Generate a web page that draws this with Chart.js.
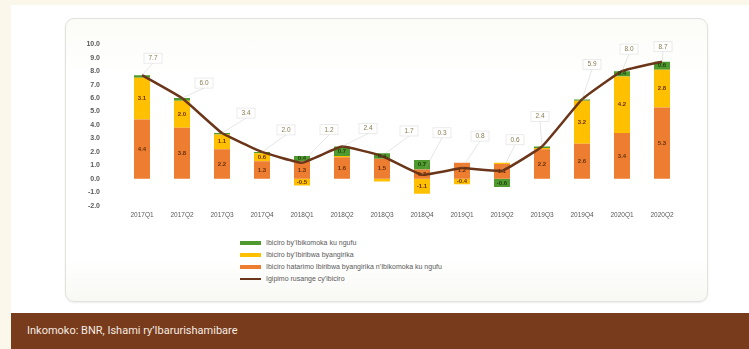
<!DOCTYPE html>
<html>
<head>
<meta charset="utf-8">
<script src="https://cdn.jsdelivr.net/npm/chart.js@4.4.1/dist/chart.umd.min.js"></script>
<style>
  html, body { margin: 0; padding: 0; }
  body { width: 749px; height: 349px; background: #fbf7ea; position: relative; overflow: hidden; font-family: "Liberation Sans", Arial, sans-serif; }
  #panel { position: absolute; left: 11px; top: 5px; width: 738px; height: 308px; background: #ffffff; }
  #box { position: absolute; left: 65px; top: 18px; width: 641px; height: 282px; border: 1px solid #e2e2dc; border-radius: 9px; background: linear-gradient(#fbfbf7, #ffffff 20%, #ffffff 85%, #f8f8f4); box-shadow: 0 1px 2px rgba(0,0,0,0.08); }
  #wrap { position: absolute; left: 65px; top: 18px; width: 642px; height: 214px; }
  #legend { position: absolute; left: 240px; top: 237px; font-size: 7px; color: #595959; line-height: 12px; }
  #legend div { display: flex; align-items: center; height: 12px; }
  #legend span.sw { display: inline-block; width: 21px; height: 4px; margin-right: 5px; }
  #footer { position: absolute; left: 11px; top: 313px; width: 738px; height: 36px; background: #783b1b; color: #f4ebe3; font-family: Roboto, "Open Sans", sans-serif; font-size: 11px; line-height: 36px; }
  #footer span { position: absolute; left: 16px; }
</style>
</head>
<body>
<div id="panel"></div>
<div id="box"></div>
<div id="wrap"><canvas id="c" width="642" height="214"></canvas></div>
<div id="legend"></div>
<div id="footer"><span>Inkomoko: BNR, Ishami ry’Ibarurishamibare</span></div>
<script>
// ---- data ----
const categories = ["2017Q1","2017Q2","2017Q3","2017Q4","2018Q1","2018Q2","2018Q3","2018Q4","2019Q1","2019Q2","2019Q3","2019Q4","2020Q1","2020Q2"];
const coreValues   = [4.4, 3.8, 2.2, 1.3, 1.3, 1.6, 1.5, 0.7, 1.2, 1.1, 2.2, 2.6, 3.4, 5.3];
const freshValues  = [3.1, 2.0, 1.1, 0.6, -0.5, 0.1, -0.2, -1.1, -0.4, 0.1, 0.1, 3.2, 4.2, 2.8];
const energyValues = [0.2, 0.2, 0.1, 0.1, 0.4, 0.7, 0.4, 0.7, 0.0, -0.6, 0.1, 0.1, 0.4, 0.6];
const headlineValues = [7.7, 6.0, 3.4, 2.0, 1.2, 2.4, 1.7, 0.3, 0.8, 0.6, 2.4, 5.9, 8.0, 8.7];
const yTicks = [-2,-1,0,1,2,3,4,5,6,7,8,9,10];
const seriesNames = {
  energy: "Ibiciro by’Ibikomoka ku ngufu",
  fresh: "Ibiciro by’Ibiribwa byangirika",
  core: "Ibiciro hatarimo Ibiribwa byangirika n’Ibikomoka ku ngufu",
  headline: "Igipimo rusange cy’ibiciro"
};
// ---- styles ----
const COL = { core: "#ED7D31", fresh: "#FFC000", energy: "#4E9A2E", line: "#6B3519" };
const calloutOffsets = [[11,-17],[22,-15],[24,-20],[24,-22],[27,-33],[26,-18],[27,-25],[20,-42],[18,-32],[13,-31],[-2,-30],[10,-35],[7,-22],[1,-15]];

const legend = document.getElementById('legend');
[["energy", COL.energy, 4],["fresh", COL.fresh, 4],["core", COL.core, 4],["headline", COL.line, 2.5]].forEach(([k,c,h]) => {
  const d = document.createElement('div');
  d.innerHTML = '<span class="sw" style="background:'+c+';height:'+h+'px"></span>' + seriesNames[k];
  legend.appendChild(d);
});

const segLabels = {
  id: 'segLabels',
  afterDatasetsDraw(chart) {
    const ctx = chart.ctx;
    ctx.save();
    ctx.font = "bold 6px 'Liberation Sans', Arial";
    ctx.textAlign = 'center'; ctx.textBaseline = 'middle';
    [0,1,2].forEach(di => {
      const meta = chart.getDatasetMeta(di);
      const ds = chart.data.datasets[di];
      meta.data.forEach((bar, i) => {
        const v = ds.data[i];
        if (Math.abs(v) < 0.3) return;
        const cy = (bar.y + bar.base) / 2;
        ctx.fillStyle = di === 2 ? '#1f3d10' : '#6a3008';
        ctx.fillText(v.toFixed(1), bar.x, cy);
      });
    });
    ctx.restore();
  }
};

const callouts = {
  id: 'callouts',
  afterDatasetsDraw(chart) {
    const ctx = chart.ctx;
    const meta = chart.getDatasetMeta(3);
    const ds = chart.data.datasets[3];
    ctx.save();
    ctx.font = "6.5px 'Liberation Sans', Arial";
    ctx.textAlign = 'center'; ctx.textBaseline = 'middle';
    meta.data.forEach((pt, i) => {
      const [dx, dy] = calloutOffsets[i];
      const lx = pt.x + dx, ly = pt.y + dy;
      ctx.strokeStyle = 'rgba(170,170,170,0.5)'; ctx.lineWidth = 0.6;
      ctx.beginPath(); ctx.moveTo(pt.x, pt.y); ctx.lineTo(lx, ly + 5); ctx.stroke();
      ctx.fillStyle = '#ffffff';
      ctx.fillRect(lx - 9, ly - 5, 18, 10);
      ctx.strokeStyle = 'rgba(200,200,200,0.6)';
      ctx.strokeRect(lx - 9, ly - 5, 18, 10);
      ctx.fillStyle = '#8a7a50';
      ctx.fillText(ds.data[i].toFixed(1), lx, ly);
    });
    ctx.restore();
  }
};

new Chart(document.getElementById('c'), {
  type: 'bar',
  data: {
    labels: categories,
    datasets: [
      { label: seriesNames.core, data: coreValues, backgroundColor: COL.core, stack: 's', order: 1, categoryPercentage: 1, barPercentage: 0.4 },
      { label: seriesNames.fresh, data: freshValues, backgroundColor: COL.fresh, stack: 's', order: 2, categoryPercentage: 1, barPercentage: 0.4 },
      { label: seriesNames.energy, data: energyValues, backgroundColor: COL.energy, stack: 's', order: 3, categoryPercentage: 1, barPercentage: 0.4 },
      { type: 'line', label: seriesNames.headline, data: headlineValues, borderColor: COL.line, borderWidth: 2.5, pointRadius: 0, tension: 0.1, fill: false, order: 0 }
    ]
  },
  options: {
    responsive: false,
    animation: false,
    layout: { padding: { top: 10, right: 25, bottom: 0, left: 0 } },
    plugins: { legend: { display: false }, tooltip: { enabled: false } },
    scales: {
      x: {
        stacked: true,
        grid: { display: false, drawTicks: false },
        border: { display: false },
        ticks: { color: '#595959', font: { size: 6.5, family: "'Liberation Sans', Arial" }, maxRotation: 0, autoSkip: false, padding: 6 }
      },
      y: {
        stacked: true,
        min: -2, max: 10,
        afterBuildTicks: s => { s.ticks = yTicks.map(v => ({ value: v })); },
        afterFit: s => { s.width = 57; },
        grid: { display: false, drawTicks: false },
        border: { display: false },
        ticks: { color: '#595959', font: { size: 7, weight: 'bold', family: "'Liberation Sans', Arial" }, padding: 22, callback: v => Number(v).toFixed(1) }
      }
    }
  },
  plugins: [segLabels, callouts]
});
</script>
</body>
</html>
